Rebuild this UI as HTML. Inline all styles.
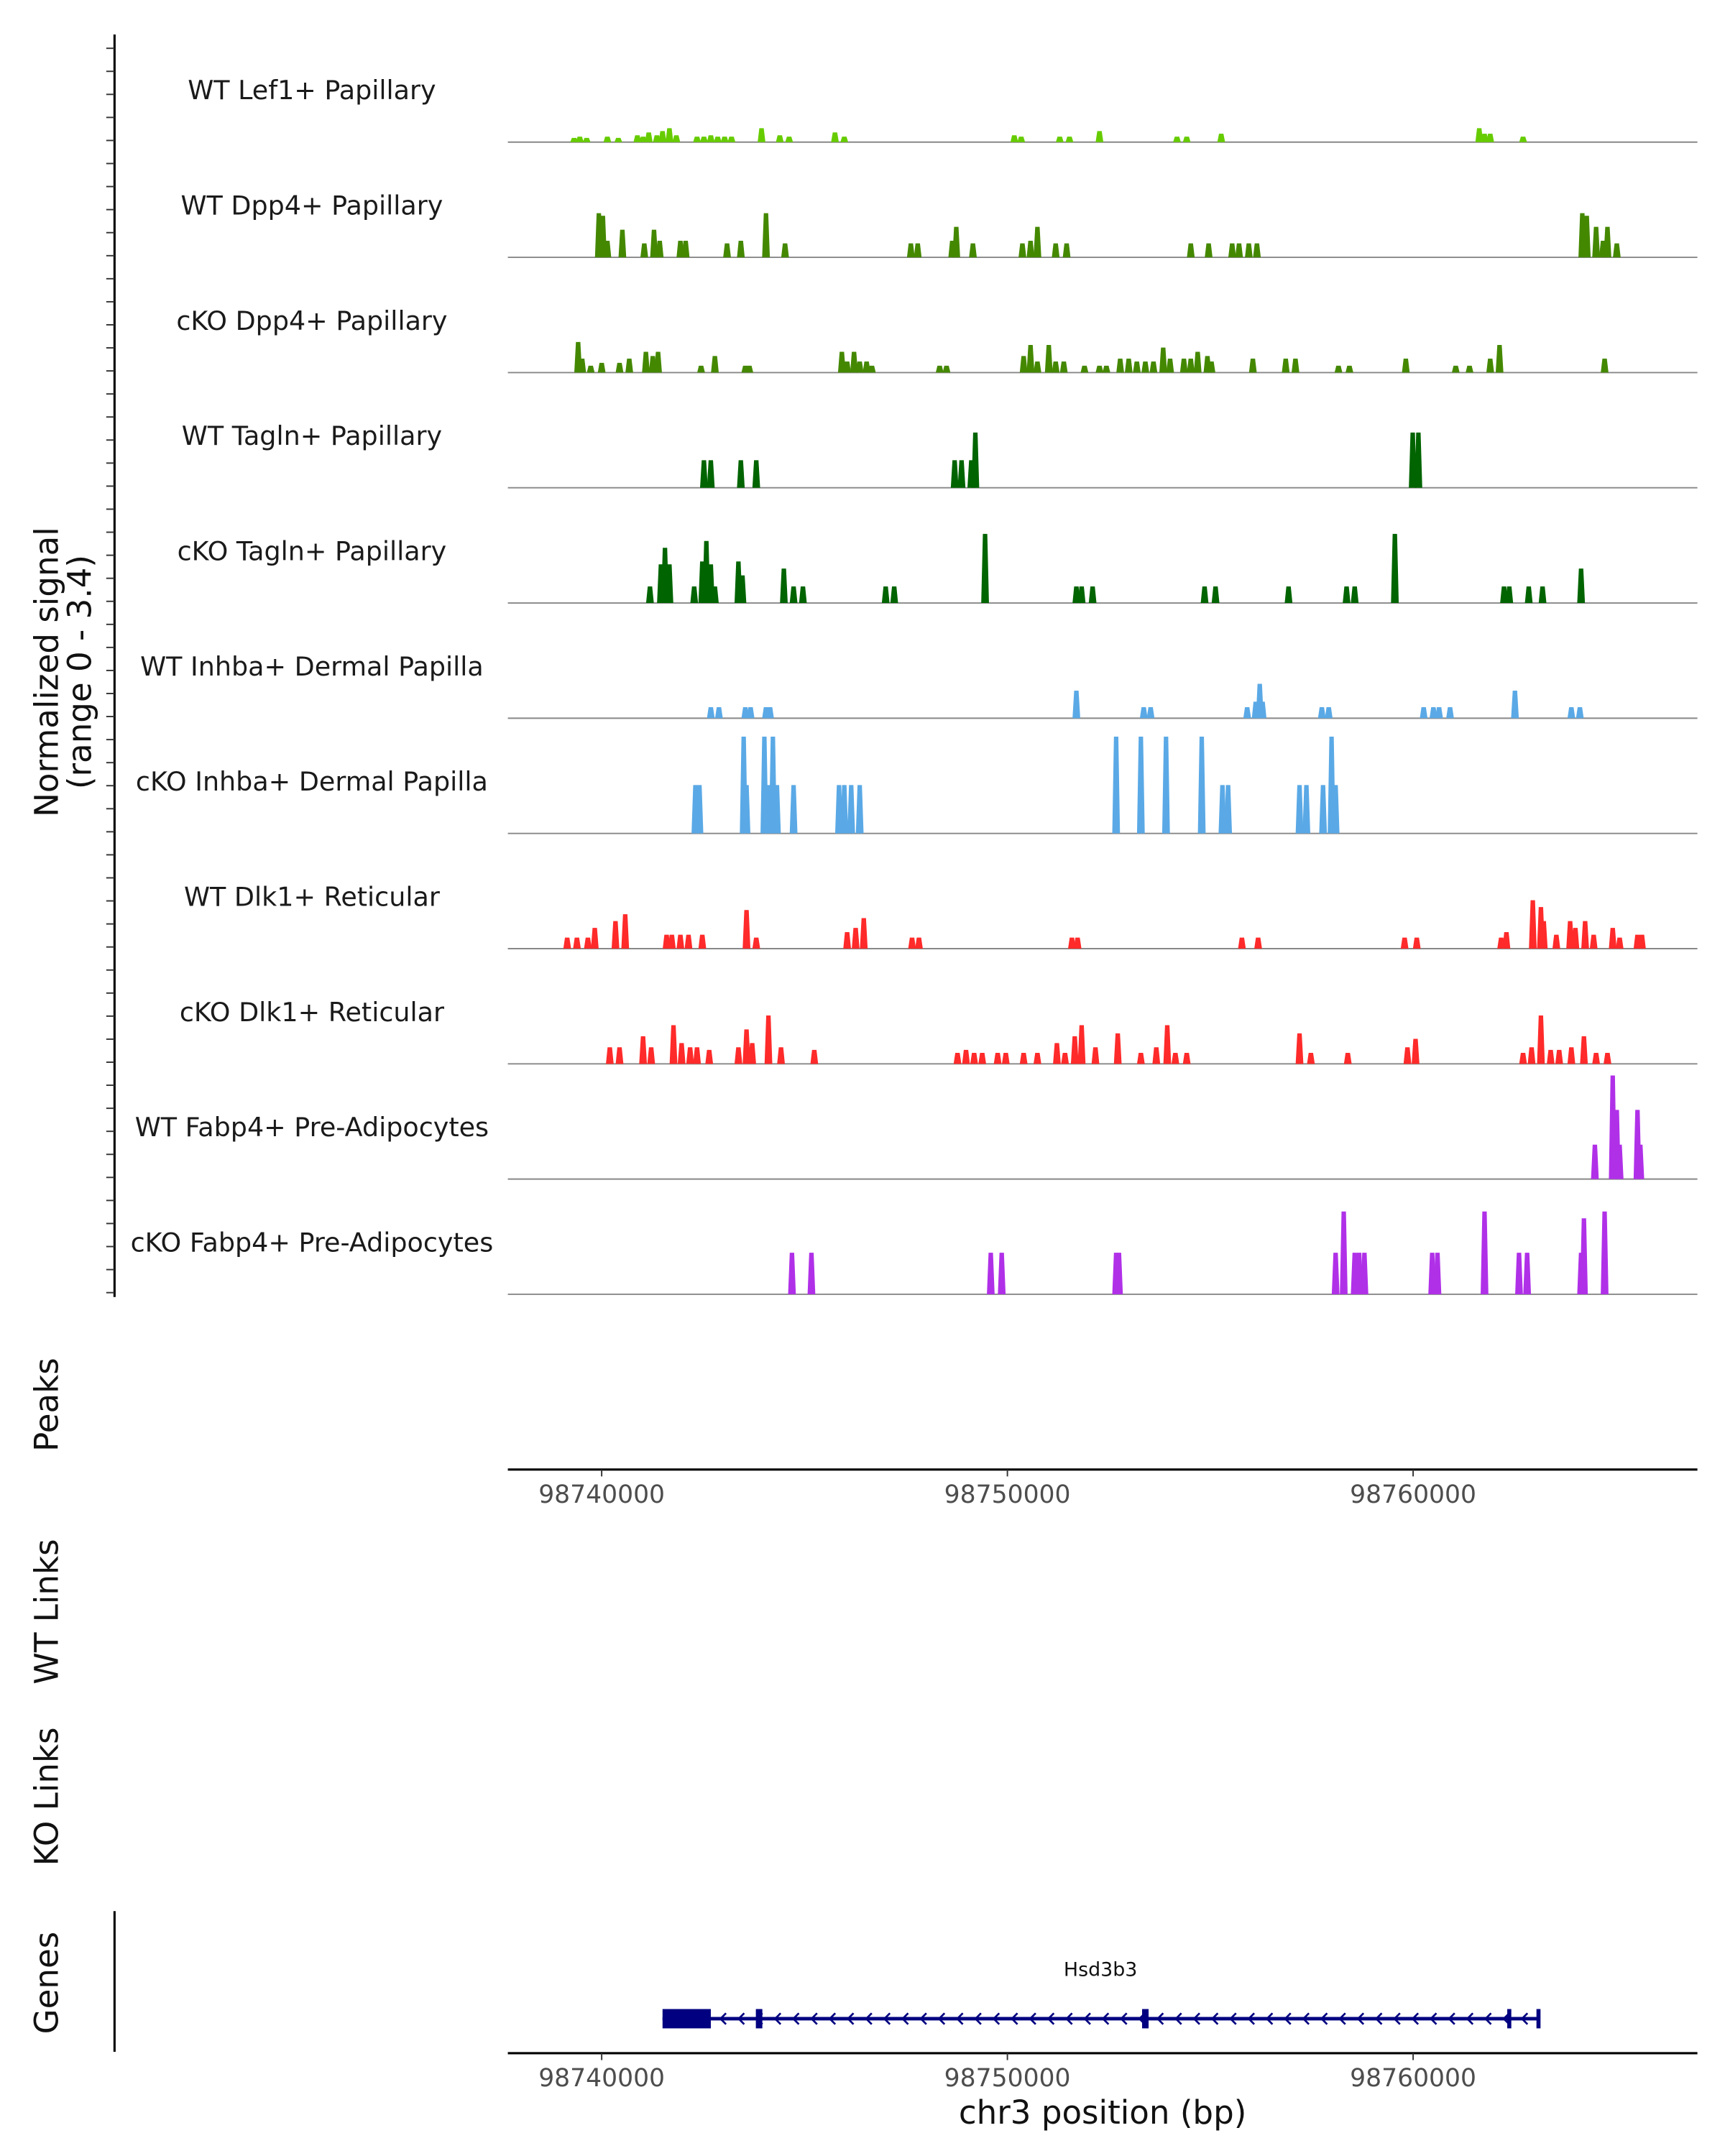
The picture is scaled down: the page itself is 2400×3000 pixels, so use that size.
<!DOCTYPE html>
<html><head><meta charset="utf-8"><style>
html,body{margin:0;padding:0;background:#fff}
svg{display:block}
text{font-family:"DejaVu Sans","Liberation Sans",sans-serif}
</style></head><body>
<svg id="chart" xmlns="http://www.w3.org/2000/svg" width="2400" height="3000" viewBox="0 0 1250 1562.5">
<g id="tracks"></g>
<g id="axes"></g>
</svg>
<script>
const ORIGIN_BP = 98740000;
const trackNames = ["WT Lef1+ Papillary","WT Dpp4+ Papillary","cKO Dpp4+ Papillary","WT Tagln+ Papillary","cKO Tagln+ Papillary","WT Inhba+ Dermal Papilla","cKO Inhba+ Dermal Papilla","WT Dlk1+ Reticular","cKO Dlk1+ Reticular","WT Fabp4+ Pre-Adipocytes","cKO Fabp4+ Pre-Adipocytes"];
const trackColors = ["#66cc00","#448800","#448800","#006400","#006400","#5aa9e6","#5aa9e6","#ff2a2a","#ff2a2a","#b030e8","#b030e8"];
const pos0=[-0.68,-0.54,-0.37,0.14,0.41,0.88,1.02,1.16,1.36,1.50,1.67,1.84,2.35,2.52,2.69,2.86,3.03,3.20,3.94,4.39,4.62,5.75,5.98,10.17,10.34,11.29,11.53,12.27,14.18,14.42,15.27,21.63,21.76,21.90,22.71];
const sig0=[0.13,0.17,0.13,0.17,0.13,0.21,0.17,0.30,0.21,0.34,0.43,0.21,0.17,0.17,0.21,0.17,0.17,0.17,0.43,0.21,0.17,0.30,0.17,0.21,0.17,0.17,0.17,0.34,0.17,0.17,0.26,0.43,0.26,0.26,0.17];
const pos1=[-0.07,0.03,0.14,0.51,1.05,1.29,1.43,1.94,2.07,3.09,3.43,4.05,4.52,7.62,7.79,8.64,8.74,9.15,10.37,10.57,10.74,11.19,11.46,14.52,14.96,15.54,15.71,15.95,16.15,24.17,24.28,24.51,24.68,24.79,25.02];
const sig1=[1.36,1.28,0.51,0.85,0.43,0.85,0.51,0.51,0.51,0.43,0.51,1.36,0.43,0.43,0.43,0.51,0.94,0.43,0.43,0.51,0.94,0.43,0.43,0.43,0.43,0.43,0.43,0.43,0.43,1.36,1.28,0.94,0.51,0.94,0.43];
const pos2=[-0.58,-0.48,-0.27,0,0.44,0.68,1.09,1.26,1.39,2.45,2.79,3.54,3.64,5.92,6.05,6.22,6.36,6.53,6.66,8.33,8.50,10.40,10.57,10.74,11.02,11.19,11.39,11.90,12.27,12.44,12.78,12.99,13.19,13.40,13.60,13.84,14.01,14.35,14.52,14.69,14.93,15.03,16.05,16.86,17.10,18.16,18.43,19.82,21.05,21.39,21.90,22.13,24.72];
const sig2=[0.94,0.43,0.21,0.30,0.30,0.43,0.64,0.51,0.64,0.21,0.51,0.21,0.21,0.64,0.34,0.64,0.34,0.34,0.21,0.21,0.21,0.51,0.85,0.34,0.85,0.34,0.34,0.21,0.21,0.21,0.43,0.43,0.34,0.34,0.34,0.77,0.43,0.43,0.43,0.64,0.51,0.34,0.43,0.43,0.43,0.21,0.21,0.43,0.21,0.21,0.43,0.85,0.43];
const pos3=[2.52,2.69,3.43,3.81,8.70,8.87,9.11,9.21,19.99,20.13];
const sig3=[0.85,0.85,0.85,0.85,0.85,0.85,0.85,1.70,1.70,1.70];
const pos4=[1.19,1.46,1.56,1.67,2.28,2.48,2.58,2.69,2.79,3.37,3.47,4.49,4.73,4.96,7.00,7.21,9.45,11.70,11.83,12.10,14.86,15.13,16.93,18.36,18.56,19.55,22.24,22.37,22.85,23.19,24.14];
const sig4=[0.51,1.19,1.70,1.19,0.51,1.28,1.91,1.19,0.51,1.28,0.85,1.06,0.51,0.51,0.51,0.51,2.13,0.51,0.51,0.51,0.51,0.51,0.51,0.51,0.51,2.13,0.51,0.51,0.51,0.51,1.06];
const pos5=[2.69,2.89,3.54,3.67,4.05,4.15,11.70,13.36,13.53,15.91,16.12,16.22,16.29,17.75,17.92,20.26,20.50,20.64,20.91,22.51,23.90,24.11];
const sig5=[0.34,0.34,0.34,0.34,0.34,0.34,0.85,0.34,0.34,0.34,0.51,1.06,0.51,0.34,0.34,0.34,0.34,0.34,0.34,0.85,0.34,0.34];
const pos6=[2.31,2.41,3.50,3.57,4.01,4.11,4.22,4.32,4.73,5.85,5.98,6.15,6.36,12.68,13.29,13.91,14.79,15.30,15.44,17.20,17.37,17.78,17.99,18.09];
const sig6=[1.49,1.49,2.98,1.49,2.98,1.49,2.98,1.49,1.49,1.49,1.49,1.49,1.49,2.98,2.98,2.98,2.98,1.49,1.49,1.49,1.49,1.49,2.98,1.49];
const pos7=[-0.85,-0.61,-0.34,-0.17,0.34,0.58,1.60,1.73,1.94,2.14,2.48,3.57,3.81,6.05,6.26,6.46,7.65,7.82,11.59,11.73,15.78,16.18,19.79,20.09,22.17,22.30,22.95,23.15,23.22,23.53,23.87,24.00,24.24,24.45,24.92,25.09,25.53,25.64];
const sig7=[0.34,0.34,0.34,0.64,0.85,1.06,0.43,0.43,0.43,0.43,0.43,1.19,0.34,0.51,0.64,0.94,0.34,0.34,0.34,0.34,0.34,0.34,0.34,0.34,0.34,0.51,1.49,1.28,0.85,0.43,0.85,0.64,0.85,0.43,0.64,0.34,0.43,0.43];
const pos8=[0.20,0.44,1.02,1.22,1.77,1.97,2.18,2.35,2.65,3.37,3.57,3.71,4.11,4.42,5.24,8.77,8.98,9.18,9.38,9.76,9.96,10.40,10.74,11.22,11.42,11.66,11.83,12.17,12.72,13.29,13.67,13.94,14.14,14.42,17.20,17.48,18.39,19.86,20.06,22.71,22.92,23.15,23.39,23.60,23.90,24.21,24.51,24.79];
const sig8=[0.51,0.51,0.85,0.51,1.19,0.64,0.51,0.51,0.43,0.51,1.06,0.64,1.49,0.51,0.43,0.34,0.43,0.34,0.34,0.34,0.34,0.34,0.34,0.64,0.34,0.85,1.19,0.51,0.94,0.34,0.51,1.19,0.34,0.34,0.94,0.34,0.34,0.51,0.77,0.34,0.51,1.49,0.43,0.43,0.51,0.85,0.34,0.34];
const pos9=[24.48,24.92,25.02,25.09,25.53,25.60];
const sig9=[1.06,3.19,2.13,1.06,2.13,1.06];
const pos10=[4.69,5.17,9.59,9.86,12.68,12.75,18.09,18.29,18.56,18.67,18.80,20.47,20.60,21.76,22.61,22.81,24.14,24.21,24.72];
const sig10=[1.28,1.28,1.28,1.28,1.28,1.28,1.28,2.55,1.28,1.28,1.28,1.28,1.28,2.55,1.28,1.28,1.28,2.34,2.55];
const trackPos=[pos0,pos1,pos2,pos3,pos4,pos5,pos6,pos7,pos8,pos9,pos10];
const trackSig=[sig0,sig1,sig2,sig3,sig4,sig5,sig6,sig7,sig8,sig9,sig10];
const xTicks=[98740000,98750000,98760000];
const xTickLabels=["98740000","98750000","98760000"];
const geneName="Hsd3b3";
const geneStartKb=1.50, geneEndKb=23.09;
const geneExons=[[1.50,2.69],[3.80,3.96],[13.32,13.48],[22.32,22.42],[23.04,23.14]];

const NS="http://www.w3.org/2000/svg";
const X0=368, X1=1230;
function xs(kb){return 436+kb*29.4;}
function xbp(bp){return xs((bp-ORIGIN_BP)/1000);}
const MAXSIG=3.4, TRACKH=80;
function baseY(i){return 103+i*83.5;}
function ys(i,v){return baseY(i)-v/MAXSIG*TRACKH;}
function mk(tag,parent,attrs){const e=document.createElementNS(NS,tag);for(const k in attrs)e.setAttribute(k,attrs[k]);parent.appendChild(e);return e;}
const gT=document.getElementById('tracks'), gA=document.getElementById('axes');

trackNames.forEach((name,i)=>{
  const g=mk('g',gT,{});
  
  
  const lab=mk('text',g,{x:226,y:baseY(i)-31,'text-anchor':'middle','font-size':19,fill:'#1a1a1a'});
  lab.textContent=name;
  
  
  const bl=mk('line',g,{x1:X0,x2:X1,y1:baseY(i),y2:baseY(i),stroke:'#888',"stroke-width":1});
  
  
  trackPos[i].forEach((p,j)=>{
    const v=trackSig[i][j];
    const cx=xs(p), y0=baseY(i), yt=ys(i,v);
    const pts=[[cx-2.8,y0],[cx-1.6,yt],[cx+1.6,yt],[cx+2.8,y0]].map(a=>a.join(',')).join(' ');
    const pk=mk('polygon',g,{points:pts,fill:trackColors[i]});
    
    
  });
});

const ya=mk('line',gA,{x1:83,x2:83,y1:25,y2:940,stroke:'#000','stroke-width':1.6});


for(let k=0;k<55;k++){
  const yy=35+k*16.7; if(yy>940)break;
  const t=mk('line',gA,{x1:77,x2:83,y1:yy,y2:yy,stroke:'#333','stroke-width':1});
  
  
}
function vlabel(txt,x,y,name,fs){
  const t=mk('text',gA,{x:x,y:y,'text-anchor':'middle','font-size':fs||23.5,fill:'#111',transform:`rotate(-90 ${x} ${y})`});
  t.textContent=txt;
  
  
}
vlabel('Normalized signal',42,487,'y-axis-title');
vlabel('(range 0 - 3.4)',66,487,'y-axis-subtitle');
vlabel('Peaks',42,1018,'peaks-label');
vlabel('WT Links',42,1168,'wt-links-label');
vlabel('KO Links',42,1302,'ko-links-label');
vlabel('Genes',42,1437,'genes-label');
const ga=mk('line',gA,{x1:83,x2:83,y1:1385,y2:1487,stroke:'#000','stroke-width':1.6});



function xAxis(y,name){
  const g=mk('g',gA,{});
  
  
  mk('line',g,{x1:X0,x2:X1,y1:y,y2:y,stroke:'#000','stroke-width':1.6});
  xTicks.forEach((bp,k)=>{
    const x=xbp(bp);
    mk('line',g,{x1:x,x2:x,y1:y,y2:y+5,stroke:'#333','stroke-width':1});
    const t=mk('text',g,{x:x,y:y+24,'text-anchor':'middle','font-size':18,fill:'#4d4d4d'});
    t.textContent=xTickLabels[k];
    
    
  });
}
xAxis(1065,'peaks-x-axis');
xAxis(1488,'genes-x-axis');
const xt=mk('text',gA,{x:799,y:1539,'text-anchor':'middle','font-size':23.5,fill:'#111'});
xt.textContent='chr3 position (bp)';



const gg=mk('g',gA,{});


const GY=1463;
mk('line',gg,{x1:xs(geneStartKb),x2:xs(geneEndKb),y1:GY,y2:GY,stroke:'#000080','stroke-width':2.5});
geneExons.forEach(e=>{
  const r=mk('rect',gg,{x:xs(e[0]),y:GY-7,width:Math.max(2.5,xs(e[1])-xs(e[0])),height:14,fill:'#000080'});
  
  
});
for(let x=xs(geneExons[0][1])+8;x<xs(geneEndKb)-4;x+=13.2){
  mk('polyline',gg,{points:`${x+3},${GY-4} ${x-1},${GY} ${x+3},${GY+4}`,fill:'none',stroke:'#000080','stroke-width':1.4});
}
const gl=mk('text',gg,{x:(xs(geneStartKb)+xs(geneEndKb))/2,y:1432,'text-anchor':'middle','font-size':14,fill:'#111'});
gl.textContent=geneName;


</script>
</body></html>
